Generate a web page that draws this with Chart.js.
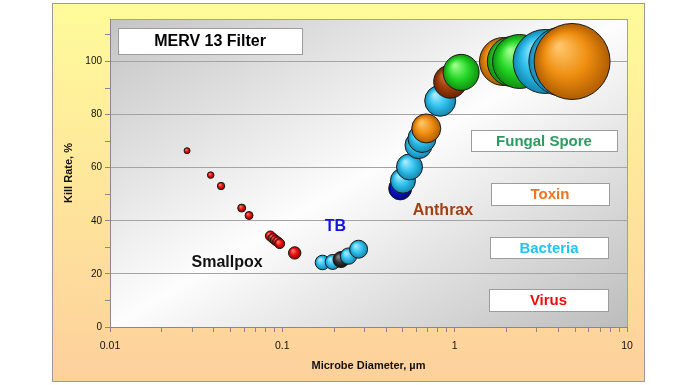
<!DOCTYPE html>
<html>
<head>
<meta charset="utf-8">
<script src="https://cdn.jsdelivr.net/npm/chart.js@4/dist/chart.umd.min.js"></script>
<style>
  html, body { margin: 0; padding: 0; background: #fff; }
</style>
</head>
<body>
<canvas id="killChart" width="696" height="385"></canvas>
<script>
// values
const diameters = [0.028, 0.0384, 0.0441, 0.0581, 0.0641, 0.0852, 0.0883, 0.0911, 0.0939, 0.0965, 0.118,
  0.171, 0.196, 0.219, 0.242, 0.277,
  0.483, 0.501, 0.547, 0.617, 0.646, 0.684, 0.824, 0.942, 1.09,
  1.92, 2.16, 2.38, 3.35, 4.30, 4.80];
const killRates = [66.4, 57.2, 53.1, 44.8, 42.0, 34.3, 33.4, 32.7, 32.1, 31.4, 27.9,
  24.3, 24.5, 25.4, 26.7, 29.3,
  52.2, 55.1, 60.3, 68.5, 71.0, 74.8, 85.2, 92.4, 95.9,
  100, 100, 100, 100, 100, 100];
const bubbleSizes = [3, 3.3, 3.7, 4, 4, 5, 5, 5, 5, 5, 6.2,
  7.3, 7.5, 8, 8.2, 9,
  11.5, 12.5, 13, 13.5, 14, 14.5, 15.5, 16.5, 18,
  24, 25, 27, 32, 35, 38];
const microbeGroups = ['Virus', 'Virus', 'Virus', 'Virus', 'Virus', 'Virus', 'Virus', 'Virus', 'Virus', 'Virus', 'Virus',
  'Bacteria', 'Bacteria', 'BacteriaDark', 'Bacteria', 'Bacteria',
  'BacteriaBlue', 'Bacteria', 'Bacteria', 'Bacteria', 'Bacteria', 'Toxin', 'Bacteria', 'SporeBrown', 'Fungal Spore',
  'Toxin', 'Fungal Spore', 'Fungal Spore', 'Bacteria', 'Bacteria', 'Toxin'];

const xTickLabels = ['0.01', '0.1', '1', '10'];
const yTickLabels = [0, 20, 40, 60, 80, 100];
const legendLabels = ['Fungal Spore', 'Toxin', 'Bacteria', 'Virus'];
const pointLabels = ['Smallpox', 'TB', 'Anthrax'];
const pointLabelAt = [[0.0478, 24.1], [0.203, 38.0], [0.855, 44.0]];
const chartTitle = 'MERV 13 Filter';

// [highlight, base, rim]
const palette = {
  'Virus': ['#ff7a6a', '#e41010', '#9a0000'],
  'Bacteria': ['#a8ecff', '#2fc0ec', '#1486b0'],
  'BacteriaDark': ['#8a8a8a', '#333333', '#111111'],
  'BacteriaBlue': ['#5a6cff', '#0a14c8', '#000a80'],
  'Toxin': ['#ffc56a', '#ee8e10', '#b05c00'],
  'Fungal Spore': ['#9cff8c', '#25d625', '#109010'],
  'SporeBrown': ['#d2743c', '#a03e0a', '#6a2400']
};
const legendColors = ['#2e9960', '#f07320', '#22c4f0', '#ee0a0a'];
const pointLabelColors = ['#111111', '#1414e6', '#a3400f'];

const FONT = "'Liberation Sans', Arial, sans-serif";

function shade(c) {
  if (c.type !== 'data') return '#999';
  const i = c.dataIndex;
  const col = palette[microbeGroups[i]];
  const xs = c.chart.scales.x, ys = c.chart.scales.y;
  if (!xs || !ys) return col[1];
  const px = xs.getPixelForValue(diameters[i]);
  const py = ys.getPixelForValue(killRates[i]);
  const r = bubbleSizes[i];
  if (!isFinite(px) || !isFinite(py)) return col[1];
  const g = c.chart.ctx.createRadialGradient(px - r * 0.35, py - r * 0.4, r * 0.05, px, py, r);
  g.addColorStop(0, col[0]);
  g.addColorStop(0.55, col[1]);
  g.addColorStop(1, col[2]);
  return g;
}

const backdrop = {
  id: 'backdrop',
  beforeDraw(chart) {
    const { ctx, chartArea: a } = chart;
    ctx.save();
    const g = ctx.createLinearGradient(0, 3, 0, 382);
    g.addColorStop(0, '#fffb9a');
    g.addColorStop(1, '#fdd09c');
    ctx.fillStyle = g;
    ctx.fillRect(52.5, 3.5, 592, 378);
    ctx.strokeStyle = '#9a9a9a';
    ctx.lineWidth = 1;
    ctx.strokeRect(52.5, 3.5, 592, 378);
    // plot area: diagonal gray-white-gray
    ctx.save();
    ctx.translate(a.left, a.top);
    ctx.scale(a.right - a.left, a.bottom - a.top);
    const p = ctx.createLinearGradient(0, 0, 1, 1);
    p.addColorStop(0, '#c4c4c4');
    p.addColorStop(0.5, '#fdfdfd');
    p.addColorStop(1, '#bcbcbc');
    ctx.fillStyle = p;
    ctx.fillRect(0, 0, 1, 1);
    ctx.restore();
    ctx.strokeStyle = '#a0a0a0';
    ctx.strokeRect(Math.round(a.left) + 0.5, Math.round(a.top) + 0.5, a.right - a.left, a.bottom - a.top);
    ctx.restore();
  }
};

function textBox(ctx, x0, y0, x1, y1, text, color, size) {
  ctx.fillStyle = '#ffffff';
  ctx.fillRect(x0, y0, x1 - x0, y1 - y0);
  ctx.strokeStyle = '#9c9c9c';
  ctx.lineWidth = 1;
  ctx.strokeRect(Math.round(x0) + 0.5, Math.round(y0) + 0.5, Math.round(x1 - x0), Math.round(y1 - y0));
  ctx.fillStyle = color;
  ctx.font = 'bold ' + size + 'px ' + FONT;
  ctx.textAlign = 'center';
  ctx.textBaseline = 'middle';
  ctx.fillText(text, (x0 + x1) / 2, (y0 + y1) / 2 + 1);
}

// label boxes, pixel rectangles
const legendBoxes = [[471, 130, 617, 151], [491, 183, 609, 205], [490, 237, 608, 258], [489, 289, 608, 311]];

const notes = {
  id: 'notes',
  afterDatasetsDraw(chart) {
    const { ctx } = chart;
    const xs = chart.scales.x, ys = chart.scales.y;
    ctx.save();
    textBox(ctx, 118, 28, 302, 54, chartTitle, '#000000', 16);
    legendLabels.forEach((t, i) => {
      const b = legendBoxes[i];
      textBox(ctx, b[0], b[1], b[2], b[3], t, legendColors[i], 15);
    });
    ctx.font = 'bold 16px ' + FONT;
    ctx.textAlign = 'center';
    ctx.textBaseline = 'middle';
    pointLabels.forEach((t, i) => {
      ctx.fillStyle = pointLabelColors[i];
      ctx.fillText(t, xs.getPixelForValue(pointLabelAt[i][0]), ys.getPixelForValue(pointLabelAt[i][1]));
    });
    ctx.restore();
  }
};

const ctx = document.getElementById('killChart').getContext('2d');

const killChart = new Chart(ctx, {
  type: 'bubble',
  data: {
    datasets: [{
      label: 'Kill rate',
      data: diameters.map((d, i) => ({ x: d, y: killRates[i], r: bubbleSizes[i] })),
      backgroundColor: shade,
      borderColor: '#1a1a1a',
      borderWidth: 1
    }]
  },
  options: {
    responsive: false,
    animation: false,
    events: [],
    layout: { autoPadding: false, padding: { left: 0, top: 19, right: 69, bottom: 0 } },
    plugins: { legend: { display: false }, tooltip: { enabled: false } },
    scales: {
      x: {
        type: 'logarithmic',
        min: 0.01,
        max: 10,
        afterBuildTicks(scale) {
          const t = [];
          [0.01, 0.1, 1].forEach(d => { for (let m = 1; m < 10; m++) t.push({ value: +(d * m).toPrecision(3) }); });
          t.push({ value: 10 });
          scale.ticks = t;
        },
        afterFit(scale) { scale.height = 58; },
        ticks: {
          autoSkip: false,
          maxRotation: 0,
          padding: 8,
          color: '#111',
          font: { family: FONT, size: 10.5 },
          callback(v) {
            const e = Math.log10(v);
            if (Math.abs(e - Math.round(e)) > 1e-6) return '';
            return xTickLabels[Math.round(e) + 2];
          }
        },
        grid: { drawOnChartArea: false, tickLength: 5, color: '#888' },
        border: { color: '#888' },
        title: {
          display: true,
          text: 'Microbe Diameter, µm',
          color: '#111',
          font: { family: FONT, size: 11, weight: 'bold' },
          padding: { top: 0, bottom: 12 }
        }
      },
      y: {
        min: 0,
        max: 116,
        afterBuildTicks(scale) {
          const t = [];
          for (let v = 0; v <= 110; v += 10) t.push({ value: v });
          scale.ticks = t;
        },
        afterFit(scale) {
          scale.width = 110;
          scale.paddingTop = 0;
          scale.paddingBottom = 0;
        },
        ticks: {
          padding: 3,
          color: '#111',
          font: { family: FONT, size: 10 },
          callback(v) { return yTickLabels.includes(v) ? String(v) : ''; }
        },
        grid: {
          tickLength: 5,
          tickColor: '#888',
          color(c) { return c.tick && c.tick.value > 0 && yTickLabels.includes(c.tick.value) ? '#a4a4a4' : 'rgba(0,0,0,0)'; }
        },
        border: { color: '#888' },
        title: {
          display: true,
          text: 'Kill Rate, %',
          color: '#111',
          font: { family: FONT, size: 11, weight: 'bold' },
          padding: { top: 62, bottom: 0 }
        }
      }
    }
  },
  plugins: [backdrop, notes]
});
</script>
</body>
</html>
